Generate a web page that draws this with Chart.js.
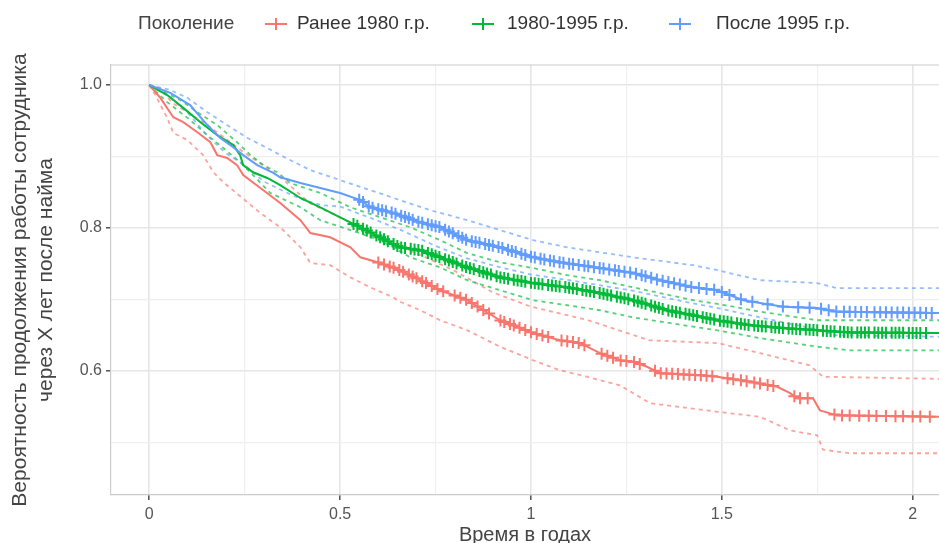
<!DOCTYPE html>
<html>
<head>
<meta charset="utf-8">
<script src="https://cdn.jsdelivr.net/npm/chart.js@4.4.1/dist/chart.umd.min.js"></script>
<style>
  html, body { margin: 0; padding: 0; background: #ffffff; }
  #wrap { width: 939px; height: 543px; position: relative; }
</style>
</head>
<body>
<div id="wrap"><canvas id="km-chart"></canvas></div>
<script>
// Подписи
const legendTitle = 'Поколение';
const groupLabels = ['Ранее 1980 г.р.', '1980-1995 г.р.', 'После 1995 г.р.'];
const groupColors = ['#F8766D', '#00BA38', '#619CFF'];
const xTitle = 'Время в годах';
const yTitle = ['Вероятность продолжения работы сотрудника', 'через X лет после найма'];
const xTicks = [0, 0.25, 0.5, 0.75, 1, 1.25, 1.5, 1.75, 2];
const yTicks = [0.5, 0.6, 0.7, 0.8, 0.9, 1.0];

// Ранее 1980 г.р. - кривая выживаемости
const redTime = [0, 0.029, 0.063, 0.089, 0.126, 0.160, 0.178, 0.204, 0.230, 0.246, 0.291, 0.343, 0.396, 0.422, 0.474, 0.527, 0.553, 0.605, 0.657, 0.710, 0.762, 0.833, 0.919, 1.006, 1.076, 1.129, 1.181, 1.233, 1.268, 1.304, 1.338, 1.443, 1.488, 1.574, 1.645, 1.679, 1.697, 1.739, 1.757, 1.802, 2.072];
const redSurv = [1, 0.982, 0.955, 0.948, 0.934, 0.920, 0.902, 0.898, 0.888, 0.874, 0.856, 0.835, 0.811, 0.793, 0.787, 0.773, 0.759, 0.751, 0.741, 0.727, 0.713, 0.699, 0.671, 0.653, 0.643, 0.639, 0.625, 0.615, 0.613, 0.606, 0.597, 0.594, 0.592, 0.585, 0.578, 0.569, 0.562, 0.562, 0.545, 0.538, 0.536];
const redLowTime = [0, 0.016, 0.047, 0.063, 0.100, 0.141, 0.168, 0.194, 0.291, 0.343, 0.396, 0.422, 0.474, 0.527, 0.579, 0.639, 0.657, 0.710, 0.762, 0.833, 0.919, 1.006, 1.076, 1.147, 1.233, 1.312, 1.488, 1.600, 1.679, 1.750, 1.765, 1.836, 2.072];
const redLow = [1, 0.986, 0.954, 0.933, 0.923, 0.902, 0.878, 0.864, 0.821, 0.801, 0.773, 0.751, 0.748, 0.731, 0.717, 0.703, 0.697, 0.685, 0.671, 0.657, 0.634, 0.615, 0.601, 0.592, 0.580, 0.555, 0.543, 0.536, 0.517, 0.510, 0.490, 0.485, 0.485];
const redUpTime = [0, 0.03, 0.06, 0.10, 0.15, 0.20, 0.25, 0.30, 0.35, 0.42, 0.50, 0.60, 0.70, 0.80, 0.90, 1.00, 1.08, 1.15, 1.27, 1.31, 1.49, 1.60, 1.73, 1.765, 2.072];
const redUp = [1, 0.995, 0.975, 0.962, 0.945, 0.925, 0.905, 0.887, 0.868, 0.835, 0.815, 0.785, 0.765, 0.740, 0.710, 0.690, 0.680, 0.671, 0.650, 0.643, 0.639, 0.625, 0.608, 0.592, 0.589];
const redCensor = [0.60, 0.615, 0.63, 0.64, 0.655, 0.665, 0.68, 0.69, 0.70, 0.715, 0.725, 0.74, 0.755, 0.77, 0.80, 0.815, 0.83, 0.845, 0.86, 0.875, 0.89, 0.92, 0.93, 0.945, 0.955, 0.97, 0.985, 1.0, 1.015, 1.03, 1.045, 1.08, 1.095, 1.11, 1.125, 1.14, 1.185, 1.2, 1.215, 1.235, 1.25, 1.27, 1.285, 1.325, 1.34, 1.355, 1.37, 1.385, 1.4, 1.415, 1.43, 1.445, 1.46, 1.475, 1.515, 1.53, 1.55, 1.565, 1.585, 1.6, 1.62, 1.635, 1.69, 1.705, 1.725, 1.795, 1.815, 1.835, 1.86, 1.885, 1.905, 1.93, 1.955, 1.975, 2.0, 2.02, 2.045];

// 1980-1995 г.р.
const greenTime = [0, 0.047, 0.089, 0.134, 0.178, 0.220, 0.238, 0.246, 0.272, 0.309, 0.343, 0.396, 0.448, 0.500, 0.553, 0.605, 0.657, 0.710, 0.762, 0.833, 0.919, 1.006, 1.095, 1.181, 1.268, 1.357, 1.425, 1.488, 1.574, 1.661, 1.750, 1.836, 2.072];
const greenSurv = [1, 0.986, 0.968, 0.948, 0.930, 0.916, 0.902, 0.888, 0.878, 0.870, 0.860, 0.842, 0.829, 0.815, 0.801, 0.787, 0.773, 0.769, 0.759, 0.745, 0.731, 0.723, 0.717, 0.709, 0.699, 0.685, 0.678, 0.671, 0.664, 0.660, 0.657, 0.654, 0.653];
const greenUpTime = [0, 0.029, 0.081, 0.126, 0.178, 0.230, 0.265, 0.299, 0.335, 0.369, 0.448, 0.527, 0.605, 0.684, 0.762, 0.833, 0.919, 1.006, 1.095, 1.181, 1.268, 1.425, 1.488, 1.600, 1.750, 2.072];
const greenUp = [1, 0.993, 0.979, 0.962, 0.944, 0.920, 0.902, 0.888, 0.878, 0.863, 0.849, 0.829, 0.815, 0.801, 0.783, 0.765, 0.752, 0.744, 0.734, 0.727, 0.717, 0.699, 0.694, 0.683, 0.671, 0.671];
const greenLowTime = [0, 0.047, 0.100, 0.152, 0.194, 0.238, 0.272, 0.317, 0.396, 0.448, 0.527, 0.605, 0.684, 0.762, 0.833, 0.919, 1.006, 1.095, 1.181, 1.268, 1.425, 1.488, 1.600, 1.750, 1.836, 2.072];
const greenLow = [1, 0.976, 0.954, 0.930, 0.912, 0.892, 0.874, 0.849, 0.829, 0.811, 0.797, 0.783, 0.759, 0.745, 0.727, 0.713, 0.699, 0.692, 0.685, 0.675, 0.662, 0.657, 0.646, 0.634, 0.629, 0.629];
const greenCensor = [0.535, 0.545, 0.56, 0.57, 0.58, 0.595, 0.605, 0.615, 0.625, 0.64, 0.65, 0.66, 0.67, 0.685, 0.695, 0.705, 0.715, 0.73, 0.74, 0.75, 0.76, 0.775, 0.785, 0.795, 0.805, 0.82, 0.83, 0.84, 0.85, 0.865, 0.875, 0.885, 0.895, 0.91, 0.92, 0.93, 0.94, 0.955, 0.965, 0.975, 0.985, 1.0, 1.01, 1.02, 1.03, 1.045, 1.055, 1.065, 1.075, 1.09, 1.1, 1.11, 1.12, 1.135, 1.145, 1.155, 1.165, 1.18, 1.19, 1.2, 1.21, 1.225, 1.235, 1.245, 1.255, 1.27, 1.28, 1.29, 1.3, 1.315, 1.325, 1.335, 1.345, 1.36, 1.37, 1.38, 1.39, 1.405, 1.415, 1.425, 1.435, 1.45, 1.46, 1.47, 1.48, 1.495, 1.505, 1.515, 1.525, 1.54, 1.55, 1.56, 1.57, 1.585, 1.595, 1.605, 1.615, 1.63, 1.64, 1.65, 1.66, 1.675, 1.685, 1.695, 1.705, 1.72, 1.73, 1.74, 1.75, 1.765, 1.775, 1.785, 1.795, 1.81, 1.82, 1.83, 1.84, 1.855, 1.865, 1.875, 1.885, 1.9, 1.91, 1.92, 1.93, 1.945, 1.955, 1.965, 1.975, 1.99, 2.0, 2.01, 2.02, 2.035];

// После 1995 г.р.
const blueTime = [0, 0.055, 0.107, 0.152, 0.186, 0.220, 0.246, 0.283, 0.325, 0.343, 0.396, 0.448, 0.500, 0.553, 0.579, 0.639, 0.710, 0.762, 0.833, 0.919, 1.006, 1.076, 1.181, 1.268, 1.338, 1.425, 1.488, 1.556, 1.661, 1.750, 1.802, 2.072];
const blueSurv = [1, 0.989, 0.972, 0.944, 0.926, 0.913, 0.902, 0.888, 0.877, 0.871, 0.863, 0.856, 0.849, 0.839, 0.829, 0.821, 0.808, 0.801, 0.783, 0.773, 0.759, 0.752, 0.744, 0.737, 0.727, 0.717, 0.713, 0.699, 0.690, 0.688, 0.683, 0.681];
const blueUpTime = [0, 0.055, 0.100, 0.152, 0.204, 0.257, 0.309, 0.343, 0.422, 0.500, 0.579, 0.657, 0.736, 0.833, 0.919, 1.006, 1.095, 1.181, 1.268, 1.425, 1.488, 1.600, 1.750, 1.802, 2.072];
const blueUp = [1, 0.993, 0.982, 0.962, 0.944, 0.926, 0.912, 0.902, 0.881, 0.867, 0.853, 0.839, 0.825, 0.811, 0.797, 0.783, 0.773, 0.766, 0.759, 0.748, 0.741, 0.727, 0.723, 0.716, 0.716];
const blueLowTime = [0, 0.05, 0.10, 0.15, 0.20, 0.25, 0.30, 0.35, 0.40, 0.45, 0.50, 0.55, 0.60, 0.66, 0.75, 0.83, 0.92, 1.00, 1.10, 1.18, 1.27, 1.42, 1.49, 1.60, 1.75, 1.80, 2.072];
const blueLow = [1, 0.985, 0.962, 0.930, 0.905, 0.888, 0.865, 0.852, 0.840, 0.832, 0.830, 0.820, 0.810, 0.797, 0.775, 0.758, 0.745, 0.735, 0.727, 0.720, 0.712, 0.695, 0.688, 0.675, 0.658, 0.650, 0.648];
const blueCensor = [0.55, 0.56, 0.575, 0.585, 0.6, 0.61, 0.62, 0.635, 0.645, 0.66, 0.67, 0.68, 0.69, 0.705, 0.715, 0.73, 0.74, 0.75, 0.76, 0.775, 0.785, 0.795, 0.81, 0.82, 0.83, 0.845, 0.855, 0.865, 0.88, 0.89, 0.9, 0.915, 0.925, 0.94, 0.95, 0.96, 0.975, 0.985, 1.0, 1.01, 1.025, 1.035, 1.05, 1.06, 1.075, 1.085, 1.1, 1.11, 1.125, 1.14, 1.15, 1.165, 1.18, 1.19, 1.205, 1.22, 1.23, 1.245, 1.26, 1.275, 1.29, 1.3, 1.315, 1.33, 1.345, 1.36, 1.375, 1.39, 1.405, 1.42, 1.44, 1.46, 1.48, 1.5, 1.52, 1.55, 1.58, 1.62, 1.66, 1.7, 1.73, 1.76, 1.78, 1.8, 1.82, 1.835, 1.85, 1.865, 1.88, 1.9, 1.915, 1.93, 1.945, 1.96, 1.975, 1.99, 2.005, 2.02, 2.035, 2.05];

const FONT = '"Liberation Sans", Arial, sans-serif';

// Пары (время, значение) -> точки
function toPoints(times, values) {
    return times.map((t, i) => ({ x: t, y: values[i] }));
}

// Значение кривой в момент t (по тем же узлам, что и линия)
function valueAt(times, values, t) {
    for (let i = 1; i < times.length; i++) {
        if (t <= times[i]) {
            const k = (t - times[i - 1]) / (times[i] - times[i - 1]);
            return values[i - 1] + k * (values[i] - values[i - 1]);
        }
    }
    return values[values.length - 1];
}

function isMajor(v, step) {
    return Math.abs(v / step - Math.round(v / step)) < 1e-6;
}

const groups = [
    { time: redTime, surv: redSurv, lo: [redLowTime, redLow], up: [redUpTime, redUp], censor: redCensor },
    { time: greenTime, surv: greenSurv, lo: [greenLowTime, greenLow], up: [greenUpTime, greenUp], censor: greenCensor },
    { time: blueTime, surv: blueSurv, lo: [blueLowTime, blueLow], up: [blueUpTime, blueUp], censor: blueCensor }
];

const datasets = [];
groups.forEach((g, i) => {
    const color = groupColors[i];
    [g.lo, g.up].forEach(ci => {
        datasets.push({
            data: toPoints(ci[0], ci[1]),
            borderColor: color + 'aa',
            borderWidth: 1.8,
            borderDash: [4, 4],
            pointRadius: 0,
            order: 30 - i
        });
    });
    datasets.push({
        data: toPoints(g.time, g.surv),
        borderColor: color,
        borderWidth: 2,
        pointRadius: 0,
        order: 20 - i
    });
    datasets.push({
        data: g.censor.map(t => ({ x: t, y: valueAt(g.time, g.surv, t) })),
        showLine: false,
        pointStyle: 'cross',
        pointRadius: 6,
        pointBorderWidth: 2,
        borderColor: color,
        backgroundColor: color,
        order: 10 - i
    });
});

// Рамка панели
const panelBorder = {
    id: 'panelBorder',
    afterDatasetsDraw(chart) {
        const { ctx, chartArea } = chart;
        ctx.save();
        ctx.strokeStyle = '#cccccc';
        ctx.lineWidth = 1.2;
        ctx.beginPath();
        ctx.moveTo(chartArea.left, chartArea.top);
        ctx.lineTo(chartArea.right, chartArea.top);
        ctx.stroke();
        ctx.restore();
    }
};

// Легенда в одну строку сверху
const legendRow = {
    id: 'legendRow',
    afterDraw(chart) {
        const ctx = chart.ctx;
        const y = 24;
        const keyX = [276, 483, 680];
        const textX = [297, 507, 716];
        ctx.save();
        ctx.font = '19px ' + FONT;
        ctx.textBaseline = 'middle';
        ctx.fillStyle = '#444444';
        ctx.fillText(legendTitle, 138, y);
        groupLabels.forEach((label, i) => {
            ctx.strokeStyle = groupColors[i];
            ctx.lineWidth = 2;
            ctx.beginPath();
            ctx.moveTo(keyX[i] - 11, y);
            ctx.lineTo(keyX[i] + 11, y);
            ctx.moveTo(keyX[i], y - 6);
            ctx.lineTo(keyX[i], y + 6);
            ctx.stroke();
            ctx.fillStyle = '#333333';
            ctx.fillText(label, textX[i], y);
        });
        ctx.restore();
    }
};

new Chart(document.getElementById('km-chart'), {
    type: 'line',
    data: { datasets: datasets },
    options: {
        responsive: true,
        maintainAspectRatio: false,
        animation: false,
        layout: { autoPadding: false, padding: { top: 65, left: 0, right: 0, bottom: 0 } },
        plugins: {
            legend: { display: false },
            tooltip: { enabled: false }
        },
        scales: {
            x: {
                type: 'linear',
                min: -0.1003,
                max: 2.069,
                afterBuildTicks: scale => { scale.ticks = xTicks.map(v => ({ value: v })); },
                afterFit: scale => { scale.height = 48; },
                border: { display: true, color: '#cccccc', width: 1.2 },
                grid: {
                    color: ctx => isMajor(ctx.tick.value, 0.5) ? '#e6e6e6' : '#efefef',
                    lineWidth: ctx => isMajor(ctx.tick.value, 0.5) ? 1.6 : 1.2,
                    tickColor: ctx => isMajor(ctx.tick.value, 0.5) ? '#444444' : 'rgba(0,0,0,0)',
                    tickLength: 5,
                    tickWidth: 1.4
                },
                ticks: {
                    autoSkip: false,
                    maxRotation: 0,
                    padding: 5,
                    color: '#555555',
                    font: { family: FONT, size: 16 },
                    callback: v => isMajor(v, 0.5) ? String(v) : ''
                },
                title: {
                    display: true,
                    text: xTitle,
                    color: '#444444',
                    font: { family: FONT, size: 20, lineHeight: 0.8 },
                    padding: { top: 0, bottom: 0 }
                }
            },
            y: {
                type: 'linear',
                min: 0.4266,
                max: 1.028,
                afterBuildTicks: scale => { scale.ticks = yTicks.map(v => ({ value: v })); },
                afterFit: scale => { scale.width = 111; },
                border: { display: true, color: '#cccccc', width: 1.2 },
                grid: {
                    color: ctx => isMajor(ctx.tick.value, 0.2) ? '#e6e6e6' : '#efefef',
                    lineWidth: ctx => isMajor(ctx.tick.value, 0.2) ? 1.6 : 1.2,
                    tickColor: ctx => isMajor(ctx.tick.value, 0.2) ? '#444444' : 'rgba(0,0,0,0)',
                    tickLength: 5,
                    tickWidth: 1.4
                },
                ticks: {
                    autoSkip: false,
                    padding: 4,
                    color: '#555555',
                    font: { family: FONT, size: 16 },
                    callback: v => isMajor(v, 0.2) ? v.toFixed(1) : ''
                },
                title: {
                    display: true,
                    text: yTitle,
                    color: '#444444',
                    font: { family: FONT, size: 21, lineHeight: 1.25 },
                    padding: { top: 7, bottom: 0 }
                }
            }
        }
    },
    plugins: [panelBorder, legendRow]
});
</script>
</body>
</html>
